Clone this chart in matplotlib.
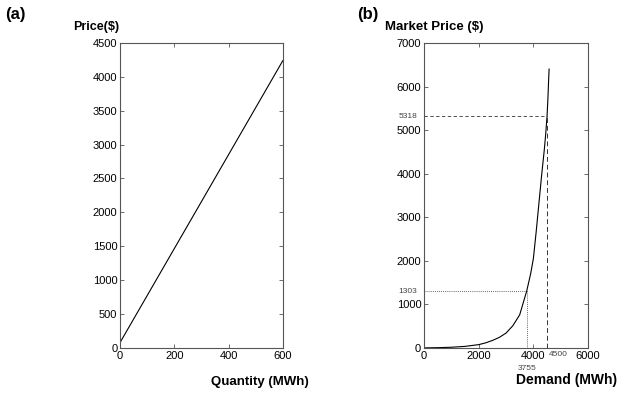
import matplotlib
matplotlib.use("Agg")
import matplotlib.pyplot as plt

# (a) linear supply curve
qty = [0, 600]
price_a = [80, 4240]

# (b) market price vs demand
demand = [0, 500, 1000, 1500, 2000, 2250, 2500, 2750, 3000, 3250, 3500, 3755, 3900, 4000,
          4100, 4200, 4300, 4400, 4450, 4500, 4530, 4555, 4575]
price_b = [0, 5, 15, 35, 75, 115, 170, 240, 340, 510, 760, 1303, 1700, 2050,
           2650, 3300, 3950, 4550, 4900, 5318, 5700, 6100, 6400]

mark_low = (3755, 1303)
mark_high = (4500, 5318)

a_yticks = list(range(0, 4501, 500))
a_xticks = [0, 200, 400, 600]
b_yticks = list(range(0, 7001, 1000))
b_xticks = [0, 2000, 4000, 6000]

plt.rcParams['font.family'] = ['Liberation Sans', 'DejaVu Sans']

fig = plt.figure(figsize=(6.19, 3.94), dpi=100)
ax1 = fig.add_axes([0.194, 0.117, 0.263, 0.774])
ax2 = fig.add_axes([0.685, 0.117, 0.265, 0.774])


def style_axes(ax):
    for s in ax.spines.values():
        s.set_color('#555555')
        s.set_linewidth(0.8)
    ax.tick_params(direction='in', top=True, right=True, length=3, width=0.6,
                   colors='#555555', labelcolor='black', labelsize=8, pad=2)


ax1.plot(qty, price_a, color='black', lw=0.8)
ax1.set_xlim(0, 600)
ax1.set_ylim(0, 4500)
ax1.set_xticks(a_xticks)
ax1.set_yticks(a_yticks)
style_axes(ax1)

ax2.plot(demand, price_b, color='black', lw=0.8)
ax2.set_xlim(0, 6000)
ax2.set_ylim(0, 7000)
ax2.set_xticks(b_xticks)
ax2.set_yticks(b_yticks)
style_axes(ax2)

# guide lines
ax2.plot([0, mark_low[0]], [mark_low[1], mark_low[1]], color='#333333', lw=0.6, ls=(0, (1, 1.5)))
ax2.plot([mark_low[0], mark_low[0]], [0, mark_low[1]], color='#333333', lw=0.6, ls=(0, (1, 1.5)))
ax2.plot([0, mark_high[0]], [mark_high[1], mark_high[1]], color='#333333', lw=0.6, ls=(0, (4, 3)))
ax2.plot([mark_high[0], mark_high[0]], [0, mark_high[1]], color='#333333', lw=0.7, ls=(0, (5, 3)))

small = dict(fontsize=6, color='#444444')
ax2.annotate(str(mark_high[1]), xy=(0, mark_high[1]), xytext=(-5, 0), textcoords='offset points',
             ha='right', va='center', **small)
ax2.annotate(str(mark_low[1]), xy=(0, mark_low[1]), xytext=(-5, 0), textcoords='offset points',
             ha='right', va='center', **small)
ax2.annotate(str(mark_low[0]), xy=(mark_low[0], 0), xytext=(0, -12), textcoords='offset points',
             ha='center', va='top', **small)
ax2.annotate(str(mark_high[0]), xy=(mark_high[0], 0), xytext=(1, -2), textcoords='offset points',
             ha='left', va='top', **small)

bold = dict(fontweight='bold')
fig.text(0.008, 0.962, '(a)', fontsize=12, ha='left', va='center', **bold)
fig.text(0.118, 0.931, 'Price($)', fontsize=9, ha='left', va='center', **bold)
fig.text(0.577, 0.962, '(b)', fontsize=12, ha='left', va='center', **bold)
fig.text(0.622, 0.931, 'Market Price ($)', fontsize=9.5, ha='left', va='center', **bold)
fig.text(0.498, 0.03, 'Quantity (MWh)', fontsize=9.5, ha='right', va='center', **bold)
fig.text(0.997, 0.036, 'Demand (MWh)', fontsize=10, ha='right', va='center', **bold)

fig.savefig('out.png', dpi=100)
